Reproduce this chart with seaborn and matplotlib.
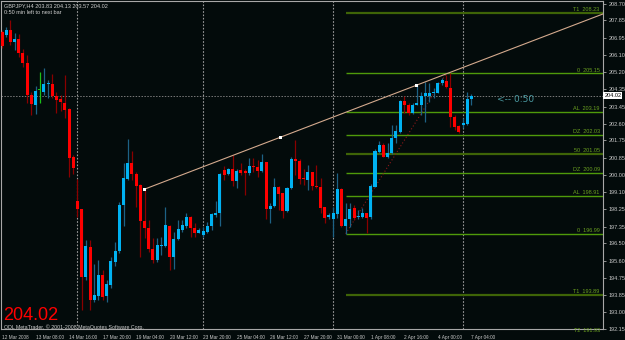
import matplotlib
matplotlib.use("Agg")
import matplotlib.pyplot as plt
import matplotlib.transforms as mtransforms
import seaborn as sns
import numpy as np
import pandas as pd

# GBPJPY H4 bars, 12 Mar 2008 00:00 -> 7 Apr 2008 04:00
opens = [207.26, 207.11, 207.37, 206.77, 206.91, 206.18, 205.70, 204.06, 203.55, 204.29,
         204.22, 204.60, 204.62, 204.01, 203.85, 203.67, 203.33, 200.89, 198.68, 198.25,
         194.80, 196.33, 193.62, 193.83, 194.89, 193.83, 194.39, 195.56, 196.13, 198.46,
         199.77, 200.58, 200.04, 199.48, 197.66, 197.27, 196.22, 195.66, 196.39, 196.39,
         197.39, 195.83, 196.71, 197.19, 197.39, 197.83, 197.29, 197.05, 196.93, 197.10,
         197.39, 197.95, 198.07, 200.24, 200.04, 200.28, 199.70, 200.24, 200.17, 200.10,
         200.44, 200.38, 200.20, 200.66, 198.24, 198.41, 199.36, 199.05, 198.17, 199.31,
         200.78, 200.71, 199.82, 199.73, 200.15, 199.43, 199.36, 198.34, 197.83, 197.75,
         198.00, 199.26, 197.39, 197.73, 198.29, 197.83, 197.83, 198.04, 197.83, 199.39,
         201.17, 201.51, 200.89, 201.09, 201.88, 202.19, 203.75, 203.55, 203.12, 203.55,
         203.55, 204.01, 204.01, 204.14, 204.17, 204.65, 204.79, 204.40, 202.95, 202.48,
         202.53, 202.56, 203.83]
highs = [207.37, 207.52, 207.87, 207.20, 207.16, 206.38, 206.09, 204.22, 204.51, 205.24,
         205.42, 204.82, 205.13, 204.22, 204.06, 205.07, 203.38, 201.00, 199.77, 198.25,
         196.68, 196.68, 195.46, 195.66, 195.15, 194.64, 195.83, 196.59, 198.63, 200.58,
         201.83, 201.22, 200.15, 199.51, 199.31, 197.69, 196.76, 196.76, 196.84, 198.37,
         197.44, 197.10, 197.69, 197.69, 198.04, 197.90, 197.53, 197.27, 197.35, 197.61,
         198.07, 198.66, 200.07, 200.44, 200.33, 201.00, 200.28, 200.61, 200.28, 200.83,
         200.83, 200.75, 201.05, 200.66, 198.54, 199.82, 199.43, 199.05, 199.36, 200.92,
         201.77, 200.78, 200.28, 200.49, 200.15, 200.49, 199.82, 198.37, 198.04, 198.36,
         200.08, 199.31, 198.54, 198.54, 198.46, 198.20, 198.29, 198.04, 199.53, 201.29,
         201.73, 201.60, 201.60, 202.53, 202.53, 203.80, 204.01, 203.63, 203.63, 204.56,
         204.22, 204.73, 204.65, 204.40, 204.73, 204.91, 205.07, 205.15, 203.04, 202.53,
         202.87, 204.22, 204.13]
lows = [206.45, 207.01, 206.60, 206.35, 206.01, 205.50, 203.63, 203.04, 203.09, 203.63,
        204.06, 203.89, 203.89, 203.13, 203.26, 202.87, 199.90, 200.03, 197.86, 193.11,
        194.64, 193.11, 193.54, 193.62, 193.62, 193.49, 194.22, 195.35, 196.00, 197.40,
        199.73, 199.73, 198.34, 195.83, 196.76, 196.05, 195.49, 195.57, 195.91, 196.34,
        195.15, 195.19, 196.68, 197.10, 197.27, 196.84, 196.84, 197.02, 196.84, 197.05,
        197.19, 197.86, 197.39, 199.73, 199.99, 199.43, 199.31, 199.99, 198.97, 199.99,
        200.15, 199.90, 200.15, 197.73, 197.56, 198.37, 198.20, 197.78, 198.12, 199.26,
        199.99, 199.53, 199.48, 199.22, 199.22, 199.31, 198.06, 197.56, 197.73, 196.83,
        197.80, 197.35, 196.99, 197.35, 197.69, 197.73, 197.78, 197.03, 197.73, 199.36,
        201.09, 200.89, 200.83, 201.05, 201.63, 202.14, 203.12, 203.04, 203.09, 203.55,
        203.04, 202.70, 203.72, 203.89, 204.14, 204.57, 204.40, 202.44, 202.27, 202.14,
        202.36, 202.53, 203.57]
closes = [206.55, 207.37, 206.77, 206.91, 206.18, 205.70, 204.06, 203.60, 204.27, 204.29,
          204.60, 204.65, 204.01, 203.80, 203.72, 203.29, 200.84, 200.33, 198.25, 194.80,
          196.37, 193.62, 193.88, 194.89, 193.79, 194.44, 195.59, 196.13, 198.46, 199.82,
          200.58, 200.04, 199.44, 197.66, 197.27, 196.20, 195.66, 196.42, 196.42, 197.44,
          195.83, 196.71, 197.22, 197.44, 197.83, 197.27, 197.05, 197.19, 197.13, 197.39,
          198.00, 198.04, 200.04, 199.99, 200.28, 199.68, 200.20, 200.07, 200.10, 200.44,
          200.38, 200.20, 200.66, 198.24, 198.41, 199.36, 199.02, 198.17, 199.31, 200.78,
          200.70, 199.78, 199.77, 200.15, 199.43, 199.36, 198.32, 197.78, 197.95, 198.05,
          199.27, 197.39, 197.73, 198.24, 197.78, 197.90, 198.04, 197.78, 199.43, 201.22,
          201.51, 200.92, 201.12, 201.88, 202.24, 203.75, 203.55, 203.12, 203.55, 203.63,
          204.01, 204.14, 204.14, 204.22, 204.65, 204.82, 204.45, 202.92, 202.44, 202.19,
          202.62, 203.84, 204.02]

time_label_bars = [0, 8, 16, 24, 32, 40, 48, 56, 64, 72, 80, 88, 96, 104, 112]
time_labels = ["12 Mar 2008", "13 Mar 08:00", "14 Mar 16:00", "17 Mar 20:00",
               "19 Mar 04:00", "20 Mar 12:00", "23 Mar 20:00", "25 Mar 04:00",
               "26 Mar 12:00", "27 Mar 20:00", "31 Mar 00:00", "1 Apr 08:00",
               "2 Apr 16:00", "4 Apr 00:00", "7 Apr 04:00"]
week_separators = [18, 48, 79, 110]

price_ticks = [208.70, 207.85, 206.95, 206.10, 205.20, 204.35, 203.45, 202.60, 201.75,
               200.85, 200.00, 199.10, 198.25, 197.35, 196.50, 195.60, 194.75, 193.85,
               193.00, 192.15]

fib_names = ["T1", "0", "AL", "DZ", "50", "DZ", "AL", "0", "T1", "T2"]
fib_values = [208.23, 205.15, 203.19, 202.03, 201.05, 200.09, 198.91, 196.99, 193.89, 191.93]
fib_strong = [True, False, False, False, True, False, False, False, True, True]
fib_start_bar = 82
fib_swing_bars = [82, 106]
fib_swing_prices = [196.99, 205.15]

trend_bars = [34, 99]
trend_prices = [199.26, 204.56]

symbol = "GBPJPY,H4"
last_price = 204.02
last_ohlc = "203.83 204.13 203.57 204.02"

BG = "#030b0b"
BULL = "#00b2f2"
BULL_WICK = "#1d6285"
BEAR = "#ff0000"
BEAR_WICK = "#8a0000"
DOJI = "#19c019"
FRAME = "#a8a8a8"
FIB_BRIGHT = "#4f9a0a"
FIB_DARK = "#3e6407"

sns.set_theme(style="dark", rc={
    "axes.facecolor": BG, "figure.facecolor": BG, "axes.edgecolor": FRAME,
    "axes.grid": False, "xtick.color": FRAME, "ytick.color": FRAME,
    "text.color": "#d0d0d0",
})
plt.rcParams["font.family"] = ["Liberation Sans", "DejaVu Sans"]

df = pd.DataFrame({"open": opens, "high": highs, "low": lows, "close": closes})
df["bar"] = np.arange(len(df))

fig = plt.figure(figsize=(6.25, 3.4), dpi=100)
ax = fig.add_axes([1 / 625, 11 / 340, 602 / 625, 328 / 340])
x_max = 143.4
ax.set_xlim(-0.24, x_max)
ax.set_ylim(192.14, 208.84)

# week separators
for b in week_separators:
    ax.axvline(b, color="#9a9a9a", lw=0.8, ls=(0, (1.5, 1.5)), zorder=1)

# bid line
ax.axhline(last_price, color="#7a7a7a", lw=0.7, ls=(0, (1.5, 1.5)), zorder=1)

# fibonacci levels
for name, val, strong in zip(fib_names, fib_values, fib_strong):
    col = FIB_DARK if strong else FIB_BRIGHT
    ax.hlines(val, fib_start_bar, x_max + 1, color=col, lw=1.6 if strong else 1.0, zorder=2)
    ax.text(142.6, val + 0.03, f"{name}  {val:.2f}", ha="right", va="bottom",
            fontsize=4, color="#6aa020", zorder=3)
ax.plot(fib_swing_bars, fib_swing_prices, color="#8c1a1a", lw=0.8, ls=(0, (1, 2)), zorder=2)

# candles
for _, r in df.iterrows():
    if r.close > r.open:
        body, wick = BULL, BULL_WICK
    elif r.close < r.open:
        body, wick = BEAR, BEAR_WICK
    else:
        body, wick = DOJI, DOJI
    ax.vlines(r.bar, r.low, r.high, color=wick, lw=0.9, zorder=4)
    lo = min(r.open, r.close)
    h = max(abs(r.close - r.open), 0.05)
    ax.bar(r.bar, h, bottom=lo, width=0.72, color=body, linewidth=0, zorder=5)

# trend line ray
slope = (trend_prices[1] - trend_prices[0]) / (trend_bars[1] - trend_bars[0])
ray = pd.DataFrame({"bar": [trend_bars[0], x_max + 1],
                    "price": [trend_prices[0], trend_prices[0] + slope * (x_max + 1 - trend_bars[0])]})
sns.lineplot(data=ray, x="bar", y="price", ax=ax, color="#d4aa8e", lw=0.8, zorder=6)
anchors = pd.DataFrame({"bar": [trend_bars[0], np.mean(trend_bars), trend_bars[1]],
                        "price": [trend_prices[0], np.mean(trend_prices), trend_prices[1]]})
sns.scatterplot(data=anchors, x="bar", y="price", ax=ax, marker="s", s=5,
                color="white", edgecolor="none", zorder=7)
ax.set_xlabel("")
ax.set_ylabel("")

# axes ticks
ax.yaxis.tick_right()
ax.set_yticks(price_ticks)
ax.set_yticklabels([f"{p:.2f}" for p in price_ticks], fontsize=4, color="#c8c8c8")
ax.set_xticks(time_label_bars)
ax.set_xticklabels(time_labels, fontsize=3.4, color="#c8c8c8")
offset = mtransforms.ScaledTranslation(1.5 / 100, 0, fig.dpi_scale_trans)
for lbl in ax.get_xticklabels():
    lbl.set_horizontalalignment("left")
    lbl.set_transform(lbl.get_transform() + offset)
ax.tick_params(axis="both", length=2.5, width=0.6, pad=1.5, direction="out")
for s in ax.spines.values():
    s.set_color(FRAME)
    s.set_linewidth(0.8)

# current price box on the scale
blend = mtransforms.blended_transform_factory(ax.transAxes, ax.transData)
ax.text(1.002, last_price, f"{last_price:.2f}", transform=blend, fontsize=4, color="black",
        ha="left", va="center", zorder=8, clip_on=False,
        bbox=dict(boxstyle="square,pad=0.15", fc="white", ec="none"))

# texts
ax.text(118.2, last_price - 0.22, "<-- 0:50", fontsize=6.5, color="#4b9aa2",
        ha="left", va="center", family="DejaVu Sans")
fig.text(4 / 625, 1 - 6 / 340, f"{symbol} {last_ohlc}", fontsize=4, color="#d0d0d0", va="center")
fig.text(4 / 625, 1 - 13 / 340, "0:50 min left to next bar", fontsize=4, color="#d0d0d0", va="center")
fig.text(3 / 625, 1 - 320 / 340, f"{last_price:.2f}", fontsize=13, color="#ff0000", va="baseline")
fig.text(4 / 625, 1 - 327 / 340, "ODL MetaTrader, \u00a9 2001-2008 MetaQuotes Software Corp.",
         fontsize=3.8, color="#d0d0d0", va="center")

fig.savefig("out.png", dpi=100, facecolor=BG)
